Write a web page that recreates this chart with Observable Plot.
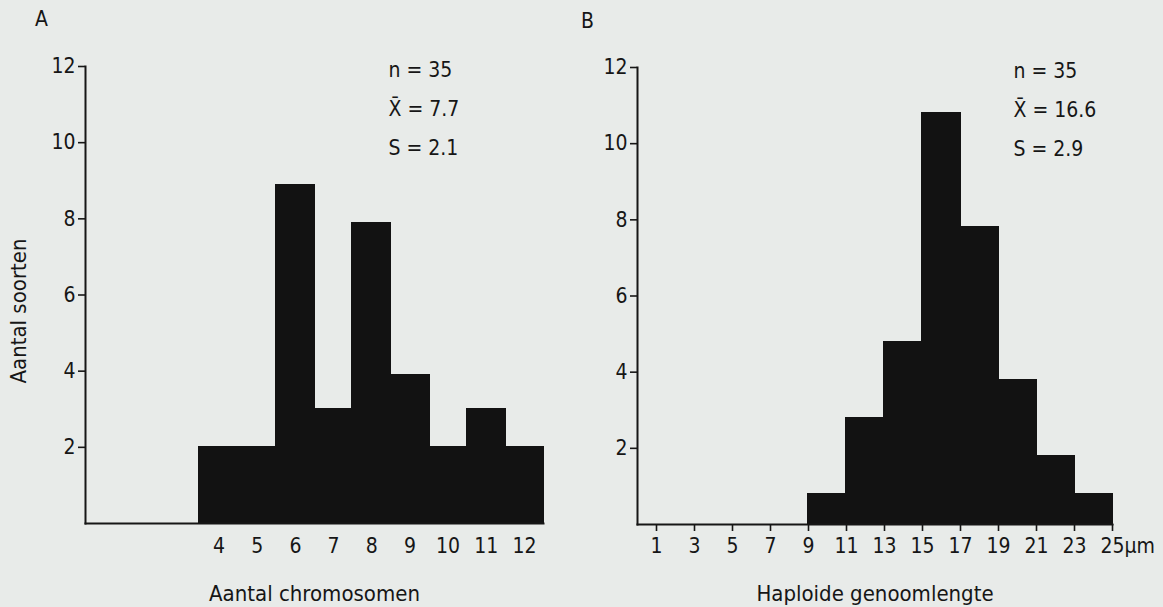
<!DOCTYPE html>
<html><head><meta charset="utf-8">
<script src="https://cdn.jsdelivr.net/npm/d3@7"></script>
<script src="https://cdn.jsdelivr.net/npm/@observablehq/plot@0.6"></script>
<style>
body{margin:0;background:#e8ebe9;}
#wrap{display:flex;width:1163px;height:607px;}
#wrap svg{font-family:"DejaVu Sans Condensed","Liberation Sans Narrow",sans-serif;font-stretch:condensed;}
</style></head><body><div id="wrap"></div>
<script>
// Panel A: number of chromosomes
const chromosomes = [4, 5, 6, 7, 8, 9, 10, 11, 12];
const countsA = [2, 2, 8.9, 3, 7.9, 3.9, 2, 3, 2];
// Panel B: haploid genome length (bins of 2 µm)
const binStartsB = [9, 11, 13, 15, 17, 19, 21, 23];
const countsB = [0.8, 2.8, 4.8, 10.8, 7.8, 3.8, 1.8, 0.8];
const ticksY = [2, 4, 6, 8, 10, 12];
const ticksB = [1, 3, 5, 7, 9, 11, 13, 15, 17, 19, 21, 23, 25];
const tickLabelsB = ["1", "3", "5", "7", "9", "11", "13", "15", "17", "19", "21", "23", "25µm"];
const statsA = ["n = 35", "X\u0304 = 7.7", "S = 2.1"];
const statsB = ["n = 35", "X\u0304 = 16.6", "S = 2.9"];
const labelA = "Aantal chromosomen";
const labelB = "Haploide genoomlengte";
const labelY = "Aantal soorten";

const ink = "#161616";
const barFill = "#121212";

const dataA = chromosomes.map((c, i) => ({x1: c - 0.5, x2: c + 0.5, n: countsA[i]}));
const dataB = binStartsB.map((s, i) => ({x1: s, x2: s + 2, n: countsB[i]}));

const common = {
  height: 607,
  style: {background: "transparent", fontSize: "21px", color: ink, overflow: "visible"},
  y: {domain: [0, 12]}
};

const titleStyle = {fontSize: 22, fill: ink, letterSpacing: "1.4px"};
const barStyle = {fill: barFill, stroke: barFill, strokeWidth: 1, insetLeft: -0.6, insetRight: -0.6, shapeRendering: "crispEdges"};

const plotA = Plot.plot({
  ...common,
  width: 580,
  marginLeft: 85, marginRight: 37, marginTop: 66, marginBottom: 84,
  x: {domain: [0.5, 12.5]},
  marks: [
    Plot.rectY(dataA, {x1: "x1", x2: "x2", y: "n", ...barStyle}),
    Plot.frame({anchor: "left", stroke: ink, strokeWidth: 2}),
    Plot.frame({anchor: "bottom", stroke: ink, strokeWidth: 2}),
    Plot.axisY({ticks: ticksY, tickSize: 7, tickPadding: 3, strokeWidth: 1.6, label: null, fontSize: 21}),
    Plot.axisX({ticks: chromosomes, tickSize: 0, tickPadding: 15, label: null, fontSize: 21}),
    Plot.text([labelA], {frameAnchor: "bottom", textAnchor: "middle", lineAnchor: "middle",
      dy: 70, ...titleStyle}),
    Plot.text([labelY], {frameAnchor: "left", textAnchor: "middle", lineAnchor: "middle",
      rotate: -90, dx: -67, dy: 16, ...titleStyle}),
    Plot.text([statsA.join("\n")], {frameAnchor: "top-left", textAnchor: "start", lineAnchor: "top",
      dx: 303, dy: -17, lineHeight: 1.85, fontSize: 21, fill: ink}),
    Plot.text(["A"], {frameAnchor: "top-left", textAnchor: "middle", lineAnchor: "middle",
      dx: -44, dy: -47, fontSize: 21, fill: ink})
  ]
});

const plotB = Plot.plot({
  ...common,
  width: 583,
  marginLeft: 57, marginRight: 51, marginTop: 67, marginBottom: 83,
  x: {domain: [0, 25]},
  marks: [
    Plot.rectY(dataB, {x1: "x1", x2: "x2", y: "n", ...barStyle}),
    Plot.frame({anchor: "left", stroke: ink, strokeWidth: 2}),
    Plot.frame({anchor: "bottom", stroke: ink, strokeWidth: 2}),
    Plot.axisY({ticks: ticksY, tickSize: 7, tickPadding: 3, strokeWidth: 1.6, label: null, fontSize: 21}),
    Plot.axisX({ticks: ticksB, tickSize: 7, tickPadding: 7, strokeWidth: 1.6,
      tickFormat: (d, i) => i < ticksB.length - 1 ? tickLabelsB[i] : "", label: null, fontSize: 21}),
    Plot.axisX({ticks: ticksB.slice(-1), tickSize: 0, tickPadding: 14,
      tickFormat: () => tickLabelsB[tickLabelsB.length - 1], textAnchor: "start", dx: -12,
      label: null, fontSize: 21}),
    Plot.text([labelB], {frameAnchor: "bottom", textAnchor: "middle", lineAnchor: "middle",
      dy: 69, ...titleStyle}),
    Plot.text([statsB.join("\n")], {frameAnchor: "top-left", textAnchor: "start", lineAnchor: "top",
      dx: 376, dy: -17, lineHeight: 1.85, fontSize: 21, fill: ink}),
    Plot.text(["B"], {frameAnchor: "top-left", textAnchor: "middle", lineAnchor: "middle",
      dx: -50, dy: -46, fontSize: 21, fill: ink})
  ]
});

document.getElementById("wrap").append(plotA, plotB);
</script>
</body></html>
